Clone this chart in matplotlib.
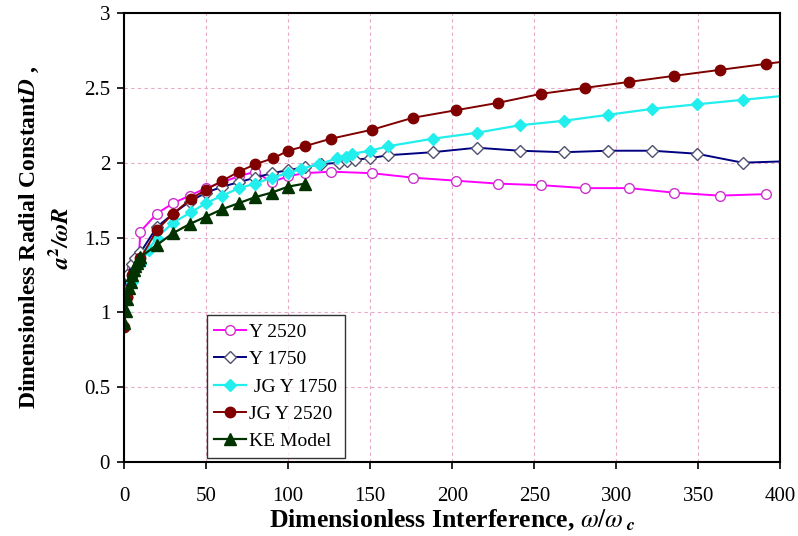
import matplotlib.pyplot as plt
from matplotlib.ticker import FuncFormatter

plt.rcParams['font.family'] = ['Liberation Serif', 'DejaVu Serif']
plt.rcParams['mathtext.fontset'] = 'stix'

# dimensionless interference (x) and radial constant (y) per series
y2520_x = [0, 2, 5, 9, 10, 20, 30, 40, 50, 60, 70, 80, 90, 100, 110, 126,
           151, 176, 202, 228, 254, 281, 308, 335, 363, 391]
y2520_y = [1.12, 1.22, 1.30, 1.37, 1.54, 1.66, 1.73, 1.78, 1.83, 1.87, 1.91,
           1.94, 1.87, 1.91, 1.93, 1.94, 1.93, 1.90, 1.88, 1.86, 1.85, 1.83,
           1.83, 1.80, 1.78, 1.79]

y1750_x = [0, 2, 5, 7, 10, 20, 30, 40, 50, 60, 70, 80, 90, 100, 110, 120,
           131, 136, 141, 150, 161, 188, 215, 241, 268, 295, 322, 349, 377, 405]
y1750_y = [1.15, 1.25, 1.32, 1.36, 1.40, 1.57, 1.66, 1.74, 1.80, 1.84, 1.87,
           1.90, 1.93, 1.95, 1.97, 1.99, 2.00, 2.01, 2.02, 2.03, 2.05, 2.07,
           2.10, 2.08, 2.07, 2.08, 2.08, 2.06, 2.00, 2.01]

jg1750_x = [0, 2, 5, 10, 15, 20, 30, 41, 50, 60, 70, 80, 90, 100, 108, 119,
            130, 135, 139, 150, 161, 188, 215, 241, 268, 295, 322, 349, 377, 405]
jg1750_y = [1.00, 1.10, 1.20, 1.32, 1.42, 1.50, 1.60, 1.67, 1.73, 1.78, 1.83,
            1.86, 1.90, 1.93, 1.96, 1.99, 2.03, 2.04, 2.06, 2.08, 2.11, 2.16,
            2.20, 2.25, 2.28, 2.32, 2.36, 2.39, 2.42, 2.45]

jg2520_x = [0, 2, 5, 10, 20, 30, 41, 50, 60, 70, 80, 91, 100, 110, 126, 151,
            176, 202, 228, 254, 281, 308, 335, 363, 391, 405]
jg2520_y = [0.90, 1.10, 1.25, 1.36, 1.55, 1.66, 1.76, 1.82, 1.88, 1.94, 1.99,
            2.03, 2.08, 2.11, 2.16, 2.22, 2.30, 2.35, 2.40, 2.46, 2.50, 2.54,
            2.58, 2.62, 2.66, 2.68]

ke_x = [0, 1, 2, 3, 4, 5, 6, 7, 8, 9, 10, 20, 30, 40, 50, 60, 70, 80, 90,
        100, 110]
ke_y = [0.93, 1.01, 1.09, 1.16, 1.20, 1.25, 1.28, 1.31, 1.33, 1.35, 1.37,
        1.45, 1.53, 1.59, 1.64, 1.69, 1.73, 1.77, 1.80, 1.84, 1.86]

fig = plt.figure(figsize=(7.98, 5.36), dpi=100)
ax = fig.add_axes([0.1554, 0.138, 0.8226, 0.8377])

ax.plot(y2520_x, y2520_y, color='#ff00ff', lw=1.4, marker='o', ms=7,
        mfc='white', mec='#cc33cc', mew=1.0, label='Y 2520')
ax.plot(y1750_x, y1750_y, color='#000080', lw=1.4, marker='D', ms=6,
        mfc='white', mec='#505070', mew=1.0, label='Y 1750')
ax.plot(jg1750_x, jg1750_y, color='#22eeee', lw=1.6, marker='D', ms=6,
        mfc='#22eeee', mec='#22eeee', label=' JG Y 1750')
ax.plot(jg2520_x, jg2520_y, color='#800000', lw=1.4, marker='o', ms=7.5,
        mfc='#800000', mec='#800000', label='JG Y 2520')
ax.plot(ke_x, ke_y, color='#003300', lw=1.6, marker='^', ms=8,
        mfc='#003300', mec='#003300', label='KE Model')

ax.set_xlim(0, 400)
ax.set_ylim(0, 3)
ax.set_xticks(range(0, 401, 50))
ax.set_yticks([0, 0.5, 1, 1.5, 2, 2.5, 3])
ax.yaxis.set_major_formatter(FuncFormatter(lambda v, p: '%g' % v))
ax.tick_params(direction='out', length=5, width=1.2, labelsize=15,
               top=False, right=False)
ax.tick_params(axis='x', pad=13)
ax.tick_params(axis='y', pad=5)
for s in ax.spines.values():
    s.set_linewidth(1.5)

ax.grid(True, color='#e8a8c8', lw=0.8, linestyle=(0, (3, 3)))
ax.set_axisbelow(True)

ax.set_xlabel(r'Dimensionless Interference, $\omega/\omega_{\ \mathbfit{c}}$',
              fontsize=18.5, fontweight='bold', labelpad=1)
ax.set_ylabel('Dimensionless Radial Constant$\\mathbfit{D}$ ,\n'
              r'$\mathbfit{a}^{\mathbf{2}}\mathbfit{/\omega R}$',
              fontsize=17, fontweight='bold', labelpad=8, linespacing=1.4)

leg = ax.legend(loc='lower left', bbox_to_anchor=(0.126, 0.009), fontsize=14,
                frameon=True, fancybox=False, edgecolor='black',
                handlelength=1.6, handletextpad=0.2, labelspacing=0.5,
                borderpad=0.4, borderaxespad=0)
leg.get_frame().set_linewidth(1.0)

fig.savefig('out.png', dpi=100)
